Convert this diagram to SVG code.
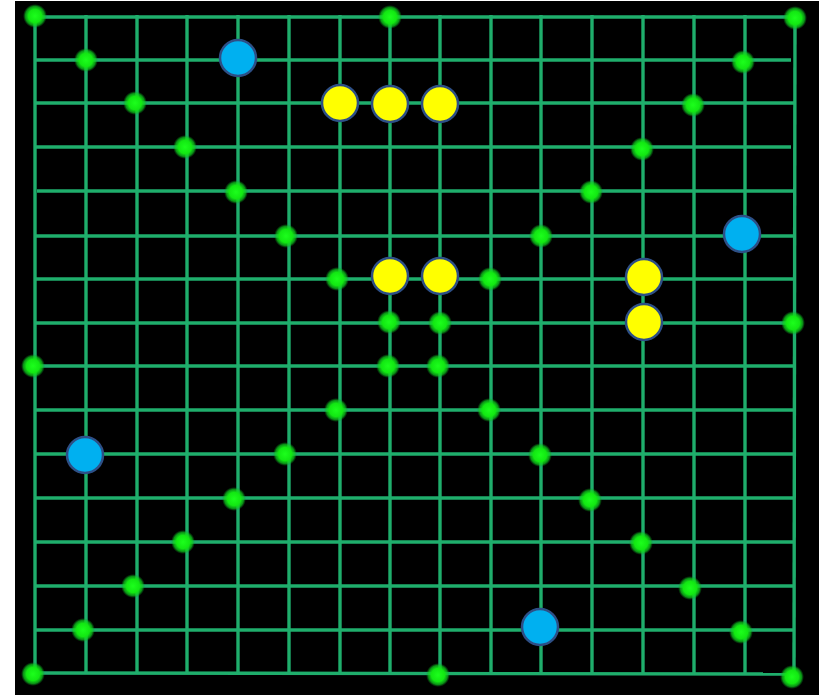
<svg xmlns="http://www.w3.org/2000/svg" width="819" height="695" viewBox="0 0 819 695">
<defs>
<radialGradient id="glow">
<stop offset="0" stop-color="#1cff1c"/>
<stop offset="0.55" stop-color="#12e812"/>
<stop offset="0.8" stop-color="#0fcf1f" stop-opacity="0.7"/>
<stop offset="1" stop-color="#0a9a20" stop-opacity="0"/>
</radialGradient>
</defs>
<style>
.g line{stroke:#1fae6c;stroke-width:3.4}
.dot{fill:url(#glow)}
.y{fill:#ffff00;stroke:#2d4f86;stroke-width:2.5}
.b{fill:#00b0f0;stroke:#2d4f86;stroke-width:2.5}
</style>
<rect x="0" y="0" width="819" height="695" fill="#ffffff"/>
<rect x="15" y="1" width="804" height="694" fill="#000000"/>
<g id="connectors" class="g">
<line x1="35" y1="17" x2="35" y2="673"/>
<line x1="86" y1="15" x2="86" y2="673"/>
<line x1="137" y1="15" x2="137" y2="673"/>
<line x1="187" y1="15" x2="187" y2="673"/>
<line x1="238" y1="15" x2="238" y2="673"/>
<line x1="289" y1="15" x2="289" y2="673"/>
<line x1="340" y1="15" x2="340" y2="673"/>
<line x1="390" y1="15" x2="390" y2="673"/>
<line x1="440" y1="15" x2="440" y2="673"/>
<line x1="491" y1="15" x2="491" y2="673"/>
<line x1="541" y1="15" x2="541" y2="673"/>
<line x1="592" y1="15" x2="592" y2="673"/>
<line x1="643" y1="15" x2="643" y2="673"/>
<line x1="694" y1="15" x2="694" y2="673"/>
<line x1="745" y1="15" x2="745" y2="673"/>
<line x1="795" y1="17" x2="794" y2="676"/>
<line x1="35" y1="17" x2="795" y2="17"/>
<line x1="35" y1="60" x2="791" y2="60"/>
<line x1="35" y1="103" x2="794" y2="103"/>
<line x1="35" y1="147" x2="791" y2="147"/>
<line x1="37" y1="191" x2="794" y2="191"/>
<line x1="35" y1="236" x2="794" y2="236"/>
<line x1="35" y1="279" x2="794" y2="279"/>
<line x1="35" y1="323" x2="794" y2="323"/>
<line x1="35" y1="366" x2="794" y2="366"/>
<line x1="35" y1="410" x2="794" y2="410"/>
<line x1="35" y1="454" x2="794" y2="454"/>
<line x1="35" y1="498" x2="794" y2="498"/>
<line x1="35" y1="542" x2="794" y2="542"/>
<line x1="35" y1="586" x2="794" y2="586"/>
<line x1="35" y1="630" x2="794" y2="630"/>
<line x1="33" y1="673" x2="794" y2="674"/>
</g>
<g id="green-points">
<circle id="gp1" class="dot" cx="35" cy="16" r="12"/>
<circle id="gp2" class="dot" cx="390" cy="17" r="12"/>
<circle id="gp3" class="dot" cx="795" cy="18" r="12"/>
<circle id="gp4" class="dot" cx="33" cy="366" r="12"/>
<circle id="gp5" class="dot" cx="793" cy="323" r="12"/>
<circle id="gp6" class="dot" cx="33" cy="674" r="12"/>
<circle id="gp7" class="dot" cx="438" cy="675" r="12"/>
<circle id="gp8" class="dot" cx="792" cy="677" r="12"/>
<circle id="gp9" class="dot" cx="86" cy="60" r="12"/>
<circle id="gp10" class="dot" cx="135" cy="103" r="12"/>
<circle id="gp11" class="dot" cx="185" cy="147" r="12"/>
<circle id="gp12" class="dot" cx="236" cy="192" r="12"/>
<circle id="gp13" class="dot" cx="286" cy="236" r="12"/>
<circle id="gp14" class="dot" cx="337" cy="279" r="12"/>
<circle id="gp15" class="dot" cx="743" cy="62" r="12"/>
<circle id="gp16" class="dot" cx="693" cy="105" r="12"/>
<circle id="gp17" class="dot" cx="642" cy="149" r="12"/>
<circle id="gp18" class="dot" cx="591" cy="192" r="12"/>
<circle id="gp19" class="dot" cx="541" cy="236" r="12"/>
<circle id="gp20" class="dot" cx="490" cy="279" r="12"/>
<circle id="gp21" class="dot" cx="389" cy="322" r="12"/>
<circle id="gp22" class="dot" cx="440" cy="323" r="12"/>
<circle id="gp23" class="dot" cx="388" cy="366" r="12"/>
<circle id="gp24" class="dot" cx="438" cy="366" r="12"/>
<circle id="gp25" class="dot" cx="336" cy="410" r="12"/>
<circle id="gp26" class="dot" cx="489" cy="410" r="12"/>
<circle id="gp27" class="dot" cx="285" cy="454" r="12"/>
<circle id="gp28" class="dot" cx="540" cy="455" r="12"/>
<circle id="gp29" class="dot" cx="234" cy="499" r="12"/>
<circle id="gp30" class="dot" cx="590" cy="500" r="12"/>
<circle id="gp31" class="dot" cx="183" cy="542" r="12"/>
<circle id="gp32" class="dot" cx="641" cy="543" r="12"/>
<circle id="gp33" class="dot" cx="133" cy="586" r="12"/>
<circle id="gp34" class="dot" cx="690" cy="588" r="12"/>
<circle id="gp35" class="dot" cx="83" cy="630" r="12"/>
<circle id="gp36" class="dot" cx="741" cy="632" r="12"/>
</g>
<g id="yellow-points">
<circle id="y1" class="y" cx="340" cy="103" r="18"/>
<circle id="y2" class="y" cx="390" cy="104" r="18"/>
<circle id="y3" class="y" cx="440" cy="104" r="18"/>
<circle id="y4" class="y" cx="390" cy="276" r="18"/>
<circle id="y5" class="y" cx="440" cy="276" r="18"/>
<circle id="y6" class="y" cx="644" cy="277" r="18"/>
<circle id="y7" class="y" cx="644" cy="322" r="18"/>
</g>
<g id="blue-points">
<circle id="b1" class="b" cx="238" cy="58" r="18"/>
<circle id="b2" class="b" cx="742" cy="234" r="18"/>
<circle id="b3" class="b" cx="85" cy="455" r="18"/>
<circle id="b4" class="b" cx="540" cy="627" r="18"/>
</g>
</svg>
